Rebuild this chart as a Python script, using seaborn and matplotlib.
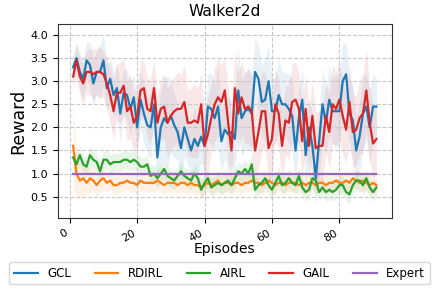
import numpy as np
import pandas as pd
import seaborn as sns
import matplotlib
matplotlib.use("Agg")
import matplotlib.pyplot as plt

episodes = list(range(1, 92))

gcl = [3.3, 3.5, 3.2, 3.05, 3.45, 3.35, 2.95, 3.2, 3.2, 3.45,
       2.85, 3.05, 2.7, 2.85, 2.3, 2.75, 2.7, 2.4, 2.65, 2.0,
       2.6, 2.3, 2.05, 2.0, 2.5, 1.35, 2.0, 2.2, 2.1, 2.25,
       2.05, 1.9, 1.55, 2.0, 1.75, 1.5, 1.75, 1.6, 1.8, 1.6,
       2.45, 2.4, 2.2, 2.45, 1.7, 1.95, 1.85, 1.9, 1.75, 2.8,
       2.2, 2.35, 2.4, 2.3, 3.2, 3.05, 2.55, 2.6, 3.0, 2.35,
       2.35, 2.7, 2.5, 2.5, 2.4, 2.25, 1.5, 2.2, 2.6, 1.4,
       2.0, 1.6, 0.9, 1.7, 2.5, 2.1, 2.6, 2.35, 2.35, 2.35,
       3.0, 3.15, 2.3, 2.15, 1.5, 1.8, 2.3, 2.45, 2.0, 2.45, 2.45]
gcl_sd = [0.3, 0.35, 0.4, 0.45, 0.4, 0.5, 0.5, 0.45, 0.6, 0.55,
          0.5, 0.45, 0.5, 0.55, 0.6, 0.5, 0.55, 0.6, 0.5, 0.55,
          0.6, 0.65, 0.6, 0.7, 0.6, 0.7, 0.8, 0.9, 1.0, 0.8,
          0.7, 0.6, 0.7, 0.6, 0.55, 0.6, 0.7, 0.6, 0.55, 0.65,
          0.7, 0.8, 0.7, 0.9, 0.7, 0.6, 0.8, 0.7, 0.75, 0.9,
          0.8, 0.85, 0.9, 0.8, 0.75, 0.7, 0.8, 0.9, 0.8, 0.75,
          0.7, 0.8, 0.7, 0.7, 0.75, 0.8, 0.7, 0.65, 0.7, 0.7,
          0.65, 0.7, 0.6, 0.7, 0.8, 0.7, 0.75, 0.7, 0.8, 0.75,
          0.8, 0.7, 0.75, 0.8, 0.7, 0.75, 0.8, 0.7, 0.8, 0.7, 0.6]

rdirl = [1.6, 1.0, 0.85, 0.9, 0.8, 0.9, 0.85, 0.75, 0.85, 0.9,
         0.8, 0.85, 0.75, 0.75, 0.8, 0.8, 0.85, 0.8, 0.8, 0.75,
         0.85, 0.8, 0.8, 0.8, 0.8, 0.85, 0.8, 0.75, 0.8, 0.8,
         0.8, 0.75, 0.8, 0.8, 0.75, 0.8, 0.75, 0.75, 0.7, 0.75,
         0.8, 0.75, 0.8, 0.85, 0.75, 0.8, 0.8, 0.75, 0.8, 0.8,
         0.75, 0.8, 0.8, 0.85, 0.8, 0.8, 0.75, 0.8, 0.85, 0.8,
         0.75, 0.8, 0.8, 0.75, 0.8, 0.8, 0.8, 0.75, 0.8, 0.75,
         0.8, 0.8, 0.75, 0.8, 0.8, 0.75, 0.8, 0.8, 0.85, 0.8,
         0.8, 0.85, 0.8, 0.9, 0.85, 0.8, 0.85, 0.8, 0.75, 0.8, 0.75]
rdirl_sd = [0.9, 0.5, 0.4, 0.35, 0.3, 0.3, 0.25, 0.25, 0.25, 0.25,
            0.2, 0.2, 0.2, 0.2, 0.2, 0.2, 0.2, 0.2, 0.2, 0.2,
            0.2, 0.2, 0.2, 0.2, 0.2, 0.2, 0.2, 0.2, 0.2, 0.2,
            0.2, 0.2, 0.2, 0.2, 0.2, 0.2, 0.2, 0.2, 0.2, 0.2,
            0.2, 0.2, 0.2, 0.2, 0.2, 0.2, 0.2, 0.2, 0.2, 0.2,
            0.2, 0.2, 0.2, 0.2, 0.2, 0.2, 0.2, 0.2, 0.2, 0.2,
            0.2, 0.2, 0.2, 0.2, 0.2, 0.2, 0.2, 0.2, 0.2, 0.2,
            0.2, 0.2, 0.2, 0.2, 0.2, 0.2, 0.2, 0.2, 0.2, 0.2,
            0.2, 0.2, 0.2, 0.2, 0.2, 0.2, 0.2, 0.2, 0.2, 0.2, 0.2]

airl = [1.35, 1.2, 1.4, 1.2, 1.15, 1.4, 1.3, 1.25, 1.05, 1.3,
        1.3, 1.2, 1.25, 1.25, 1.25, 1.3, 1.3, 1.25, 1.3, 1.25,
        1.15, 1.15, 1.2, 0.95, 1.0, 0.9, 1.0, 1.1, 0.95, 0.9,
        0.85, 0.95, 1.05, 0.95, 0.9, 0.85, 1.0, 0.9, 0.65, 0.8,
        0.9, 0.7, 0.75, 0.8, 0.75, 0.8, 0.85, 0.75, 0.9, 1.05,
        1.0, 1.1, 1.0, 1.2, 0.65, 0.75, 0.8, 0.9, 0.75, 0.65,
        0.8, 0.95, 0.75, 0.8, 0.9, 0.8, 0.75, 0.95, 0.7, 0.6,
        0.65, 0.9, 0.85, 0.6, 0.7, 0.6, 0.65, 0.6, 0.65, 0.75,
        0.75, 0.6, 0.55, 0.75, 0.85, 0.85, 0.75, 0.9, 0.7, 0.6, 0.7]
airl_sd = [0.2, 0.2, 0.2, 0.2, 0.2, 0.2, 0.2, 0.2, 0.2, 0.2,
           0.2, 0.2, 0.2, 0.2, 0.2, 0.2, 0.2, 0.2, 0.2, 0.2,
           0.2, 0.2, 0.2, 0.2, 0.2, 0.2, 0.2, 0.2, 0.2, 0.2,
           0.2, 0.2, 0.2, 0.2, 0.2, 0.2, 0.2, 0.2, 0.2, 0.2,
           0.2, 0.2, 0.2, 0.2, 0.2, 0.2, 0.2, 0.2, 0.2, 0.2,
           0.2, 0.2, 0.2, 0.25, 0.25, 0.2, 0.2, 0.2, 0.2, 0.25,
           0.2, 0.2, 0.2, 0.2, 0.2, 0.2, 0.2, 0.2, 0.2, 0.2,
           0.2, 0.2, 0.2, 0.2, 0.2, 0.2, 0.2, 0.2, 0.2, 0.2,
           0.2, 0.2, 0.2, 0.2, 0.2, 0.2, 0.2, 0.2, 0.2, 0.2, 0.2]

gail = [3.1, 3.45, 3.1, 2.95, 3.2, 3.2, 3.15, 3.2, 3.2, 3.15,
        2.95, 2.7, 2.35, 2.75, 2.75, 2.9, 2.35, 2.45, 2.1, 2.25,
        2.8, 2.85, 2.4, 2.35, 2.85, 2.1, 2.4, 2.45, 2.1, 2.25,
        2.35, 2.4, 2.4, 2.55, 2.1, 2.1, 2.15, 2.1, 2.5, 1.6,
        1.85, 2.2, 2.5, 2.65, 2.55, 2.8, 2.1, 1.5, 2.85, 2.3,
        2.65, 2.4, 2.45, 2.35, 1.5, 1.9, 2.35, 2.35, 1.55, 1.75,
        2.5, 2.3, 1.6, 2.15, 2.1, 2.55, 2.6, 2.4, 1.7, 2.4,
        1.6, 2.25, 1.55, 1.6, 1.6, 2.25, 1.9, 2.5, 2.4, 2.6,
        2.25, 1.95, 2.55, 1.9, 1.95, 2.2, 2.3, 2.8, 2.1, 1.65, 1.75]
gail_sd = [0.3, 0.35, 0.4, 0.45, 0.45, 0.5, 0.55, 0.5, 0.55, 0.5,
           0.55, 0.6, 0.65, 0.6, 0.65, 0.6, 0.65, 0.7, 0.65, 0.7,
           0.65, 0.6, 0.65, 0.7, 0.65, 0.6, 0.65, 0.7, 0.75, 0.7,
           0.75, 0.8, 0.75, 0.8, 0.7, 0.75, 0.8, 0.75, 0.7, 0.75,
           0.8, 0.75, 0.8, 0.85, 0.8, 0.75, 0.8, 0.75, 0.8, 0.85,
           0.8, 0.75, 0.8, 0.8, 0.75, 0.8, 0.85, 0.8, 0.75, 0.8,
           0.8, 0.75, 0.8, 0.75, 0.8, 0.85, 0.8, 0.75, 0.8, 0.75,
           0.8, 0.75, 0.8, 0.75, 0.8, 0.75, 0.8, 0.85, 0.8, 0.85,
           0.8, 0.75, 0.8, 0.8, 0.75, 0.8, 0.85, 0.9, 0.8, 0.75, 0.7]

expert = [1.0] * 91

methods = ["GCL", "RDIRL", "AIRL", "GAIL", "Expert"]
means = [gcl, rdirl, airl, gail, expert]
spreads = [gcl_sd, rdirl_sd, airl_sd, gail_sd, None]

fig = plt.figure(figsize=(4.39, 2.91), dpi=100)
ax = fig.add_axes([0.132, 0.251, 0.76, 0.667])
palette = sns.color_palette("tab10")

for i, (name, m, s) in enumerate(zip(methods, means, spreads)):
    df = pd.DataFrame({"Episodes": episodes, "Reward": m})
    sns.lineplot(data=df, x="Episodes", y="Reward", ax=ax, color=palette[i],
                 linewidth=1.6, label=name)
    if s is not None:
        lo = np.array(m) - np.array(s)
        hi = np.array(m) + np.array(s)
        ax.fill_between(episodes, lo, hi, color=palette[i], alpha=0.1, linewidth=0)

ax.set_ylim(0.04, 4.24)
ax.set_xlim(-3.5, 95.5)
ax.set_yticks([0.5, 1.0, 1.5, 2.0, 2.5, 3.0, 3.5, 4.0])
ax.set_xticks([0, 20, 40, 60, 80])
ax.grid(True, linestyle="--", color="#c8c8c8", linewidth=0.8)
ax.tick_params(labelsize=8)
plt.setp(ax.get_xticklabels(), rotation=30, ha="right")
ax.set_title("Walker2d", fontsize=11.2)
ax.set_xlabel("Episodes", fontsize=10, labelpad=-1)
ax.set_ylabel("Reward", fontsize=12.5, labelpad=2)
for sp in ax.spines.values():
    sp.set_color("#333333")

handles, labels = ax.get_legend_handles_labels()
ax.get_legend().remove()
fig.legend(handles, labels, loc="upper center", bbox_to_anchor=(0.5, 0.12),
           ncol=5, fontsize=8.5, frameon=True)

fig.savefig("out.png", dpi=100)
